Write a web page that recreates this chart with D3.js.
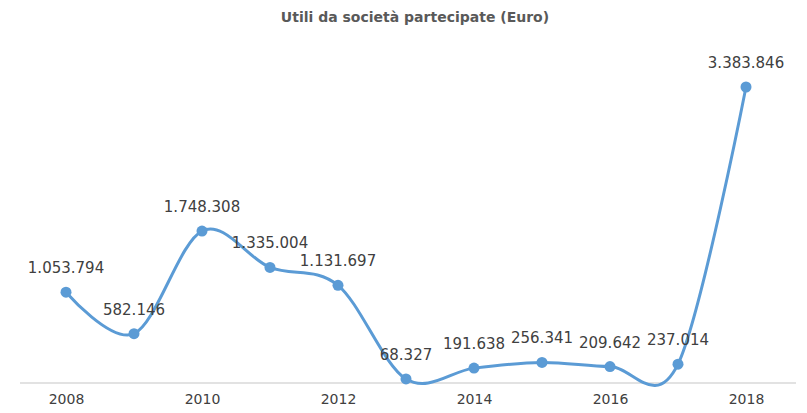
<!DOCTYPE html>
<html>
<head>
<meta charset="utf-8">
<script src="https://cdn.jsdelivr.net/npm/d3@7"></script>
<style>
  body { margin: 0; background: #fff; }
  svg { display: block; }
</style>
</head>
<body>
<div id="chart"></div>
<script>
const years = [2008, 2009, 2010, 2011, 2012, 2013, 2014, 2015, 2016, 2017, 2018];
const values = [1053794, 582146, 1748308, 1335004, 1131697, 68327, 191638, 256341, 209642, 237014, 3383846];
const tickYears = [2008, 2010, 2012, 2014, 2016, 2018];
const title = 'Utili da società partecipate (Euro)';

const width = 807, height = 413;
const fmt = d3.formatLocale({ decimal: ',', thousands: '.', grouping: [3], currency: ['€', ''] }).format(',d');

const svg = d3.select('#chart').append('svg')
  .attr('width', width)
  .attr('height', height);

const x = d3.scaleLinear().domain([2008, 2018]).range([66, 746]);
const y = d3.scaleLinear().domain([0, 3383846]).range([385, 87]);

svg.append('text')
  .attr('x', 415)
  .attr('y', 22)
  .attr('text-anchor', 'middle')
  .style('font-family', 'DejaVu Sans, Verdana, sans-serif')
  .style('font-weight', 'bold')
  .style('font-size', '14px')
  .style('fill', '#595959')
  .text(title);

// x axis
const xAxis = svg.append('g')
  .attr('transform', 'translate(0,383)')
  .call(d3.axisBottom(x).tickValues(tickYears).tickFormat(d3.format('d')).tickSize(0).tickPadding(11));
xAxis.select('.domain').remove();
xAxis.append('line')
  .attr('x1', 20).attr('x2', 796)
  .attr('stroke', '#d9d9d9').attr('stroke-width', 1.5);
xAxis.selectAll('text')
  .style('font-family', 'DejaVu Sans, Verdana, sans-serif')
  .style('font-size', '14px')
  .style('fill', '#404040');

const line = d3.line()
  .x((d, i) => x(years[i]))
  .y(d => y(d))
  .curve(d3.curveCatmullRom.alpha(0));

svg.append('path')
  .datum(values)
  .attr('d', line)
  .attr('fill', 'none')
  .attr('stroke', '#5b9bd5')
  .attr('stroke-width', 3);

svg.selectAll('circle.pt')
  .data(values)
  .enter()
  .append('circle')
  .attr('class', 'pt')
  .attr('cx', (d, i) => x(years[i]))
  .attr('cy', d => y(d))
  .attr('r', 5.5)
  .attr('fill', '#5b9bd5');

svg.selectAll('text.lbl')
  .data(values)
  .enter()
  .append('text')
  .attr('class', 'lbl')
  .attr('x', (d, i) => x(years[i]))
  .attr('y', d => y(d) - 19)
  .attr('text-anchor', 'middle')
  .style('font-family', 'DejaVu Sans, Verdana, sans-serif')
  .style('font-size', '15px')
  .style('fill', '#404040')
  .text(d => fmt(d));
</script>
</body>
</html>
